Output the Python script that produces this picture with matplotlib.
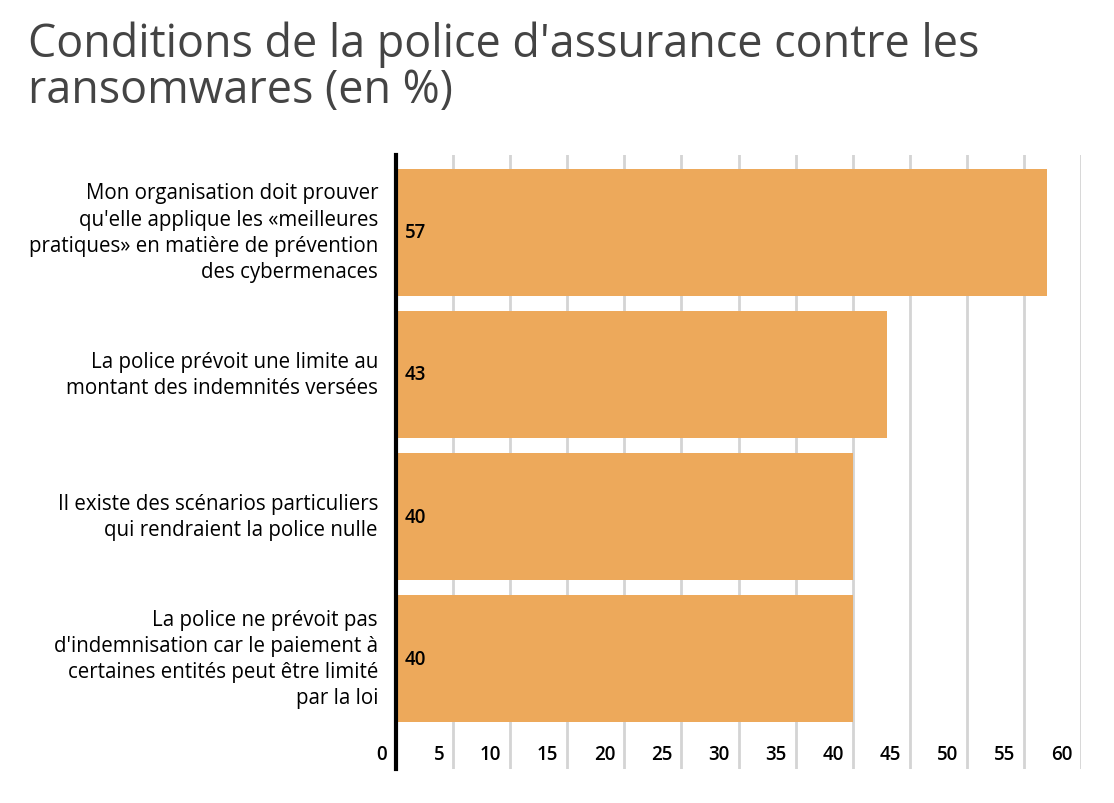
import matplotlib
matplotlib.use("Agg")
import matplotlib.pyplot as plt
import matplotlib.transforms as mtransforms

categories = [
    "Mon organisation doit prouver\nqu'elle applique les «meilleures\npratiques» en matière de prévention\ndes cybermenaces",
    "La police prévoit une limite au\nmontant des indemnités versées",
    "Il existe des scénarios particuliers\nqui rendraient la police nulle",
    "La police ne prévoit pas\nd'indemnisation car le paiement à\ncertaines entités peut être limité\npar la loi",
]
values = [57, 43, 40, 40]
ticks = [0, 5, 10, 15, 20, 25, 30, 35, 40, 45, 50, 55, 60]
title = "Conditions de la police d'assurance contre les\nransomwares (en %)"

FONT = ["Open Sans", "DejaVu Sans"]
plt.rcParams['font.family'] = FONT

W, H = 1114, 804
fig = plt.figure(figsize=(W / 100, H / 100), dpi=100)
ax = fig.add_axes([396 / W, (H - 770) / H, (1081 - 396) / W, (770 - 156) / H])

ypos = list(range(len(categories)))
ax.barh(ypos, values, height=0.894, color="#EDA95B", zorder=2)
ax.set_xlim(0, 60)
ax.set_ylim(3.775, -0.542)

ax.set_xticks(ticks)
ax.xaxis.grid(True, color="#d4d4d4", linewidth=2, zorder=0)
ax.tick_params(axis='x', length=0, labelbottom=False)
ax.set_yticks([])
for s in ["top", "right", "bottom"]:
    ax.spines[s].set_visible(False)
ax.spines["left"].set_linewidth(3)
ax.spines["left"].set_color("black")
ax.spines["left"].set_zorder(3)

# x tick labels, right-aligned just left of gridlines, inside plot area
blend = mtransforms.blended_transform_factory(ax.transData, ax.transAxes)
blend_off = mtransforms.offset_copy(blend, fig=fig, x=-9, y=0, units='dots')
for t in ticks:
    ax.text(t, 0.025, str(t), transform=blend_off, ha='right', va='center',
            fontsize=13.5, color="black", fontweight=600)

# category labels
lab_tr = mtransforms.offset_copy(ax.transData, fig=fig, x=-18, y=0, units='dots')
for y, c in zip(ypos, categories):
    ax.text(0, y, c, transform=lab_tr, ha='right', va='center', fontsize=14.8,
            color="black", linespacing=1.32)

# value labels
val_tr = mtransforms.offset_copy(ax.transData, fig=fig, x=9, y=0, units='dots')
for y, v in zip(ypos, values):
    ax.text(0, y, str(v), transform=val_tr, ha='left', va='center', fontsize=13.5,
            color="black", zorder=4, fontweight=600)

fig.text(28 / W, 1 - 21 / H, title, ha='left', va='top', fontsize=32.3,
         color="#444444", linespacing=1.0)

fig.savefig("out.png", dpi=100)
